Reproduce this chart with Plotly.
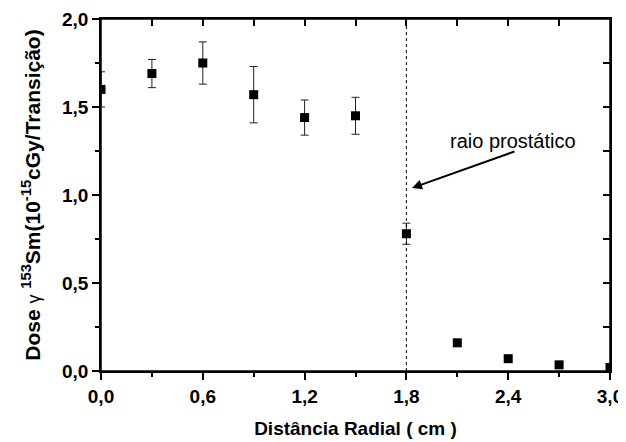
import plotly.graph_objects as go

# Data
radial_distance = [0.0, 0.3, 0.6, 0.9, 1.2, 1.5, 1.8, 2.1, 2.4, 2.7, 3.0]
dose = [1.60, 1.69, 1.75, 1.57, 1.44, 1.45, 0.78, 0.16, 0.07, 0.035, 0.02]
dose_err = [0.10, 0.08, 0.12, 0.16, 0.10, 0.105, 0.06, 0.02, 0.006, 0.005, 0.005]
prostate_radius = 1.8
arrow_tip = (1.833, 1.04)
label_pos = (2.43, 1.307)
x_range = [0, 3.0]
y_range = [0, 2.0]

FONT = "Liberation Sans, Arial, sans-serif"

fig = go.Figure()

fig.add_trace(go.Scatter(
    x=radial_distance, y=dose, mode="markers",
    marker=dict(symbol="square", size=9, color="black"),
    error_y=dict(type="data", array=dose_err, visible=True,
                 color="#222222", thickness=1, width=4),
    showlegend=False, cliponaxis=True,
))
# invisible trace to host the mirrored (inside-tick) axes
fig.add_trace(go.Scatter(x=[None], y=[None], xaxis="x2", yaxis="y2",
                         showlegend=False, hoverinfo="skip"))

fig.add_shape(type="line", xref="x", yref="paper",
              x0=prostate_radius, x1=prostate_radius, y0=0, y1=1,
              line=dict(color="black", width=1, dash="dot"))
# frame around the plot area
fig.add_shape(type="rect", xref="paper", yref="paper", x0=0, x1=1, y0=0, y1=1,
              line=dict(color="black", width=1.5), fillcolor="rgba(0,0,0,0)",
              layer="above")

# arrow
fig.add_annotation(
    x=arrow_tip[0], y=arrow_tip[1], xref="x", yref="y",
    ax=104, ay=-37, axref="pixel", ayref="pixel",
    text="", showarrow=True,
    arrowhead=2, arrowsize=1, arrowwidth=2, arrowcolor="black",
)
# label
fig.add_annotation(
    x=label_pos[0], y=label_pos[1], xref="x", yref="y",
    text="raio prostático", showarrow=False,
    xanchor="center", yanchor="middle",
    font=dict(family=FONT, size=20, color="black"),
)

axis_common = dict(showline=True, linecolor="black", linewidth=1.5,
                   showgrid=False, zeroline=False, tickcolor="black",
                   automargin=False)

# the page body has an 8px margin, so the figure is sized/offset to compensate
fig.update_layout(
    width=618, height=434,
    margin=dict(l=93, r=16, t=11, b=71),
    paper_bgcolor="white", plot_bgcolor="white",
    separators=",.",
    font=dict(family=FONT, color="black"),
    xaxis=dict(
        range=x_range, tick0=0, dtick=0.6, tickformat=".1f",
        ticks="outside", ticklen=7, tickwidth=1.5, mirror=True,
        minor=dict(dtick=0.3, ticks="outside", ticklen=4, tickwidth=1.5, tickcolor="black"),
        tickfont=dict(family=FONT, size=19, weight="bold", color="black"),
        title=dict(text="Distância Radial ( cm )", standoff=16,
                   font=dict(family=FONT, size=19, weight="bold", color="black")),
        **axis_common,
    ),
    yaxis=dict(
        range=y_range, tick0=0, dtick=0.5, tickformat=".1f",
        ticks="outside", ticklen=7, tickwidth=1.5, mirror=True,
        minor=dict(dtick=0.25, ticks="outside", ticklen=4, tickwidth=1.5, tickcolor="black"),
        tickfont=dict(family=FONT, size=19, weight="bold", color="black"),
        title=dict(text="Dose <span style='font-weight:normal;font-size:18px'>γ</span> <sup>153</sup>Sm(10<sup>-15</sup>cGy/Transição)",
                   standoff=16,
                   font=dict(family=FONT, size=21, weight="bold", color="black")),
        **axis_common,
    ),
    xaxis2=dict(range=x_range, overlaying="x", side="top", anchor="y2",
                tick0=0, dtick=0.3, ticks="inside", ticklen=7, tickwidth=1.5,
                showticklabels=False, **axis_common),
    yaxis2=dict(range=y_range, overlaying="y", side="right", anchor="x2",
                tick0=0, dtick=0.25, ticks="inside", ticklen=7, tickwidth=1.5,
                showticklabels=False, **axis_common),
)

fig.write_html("out.html")
